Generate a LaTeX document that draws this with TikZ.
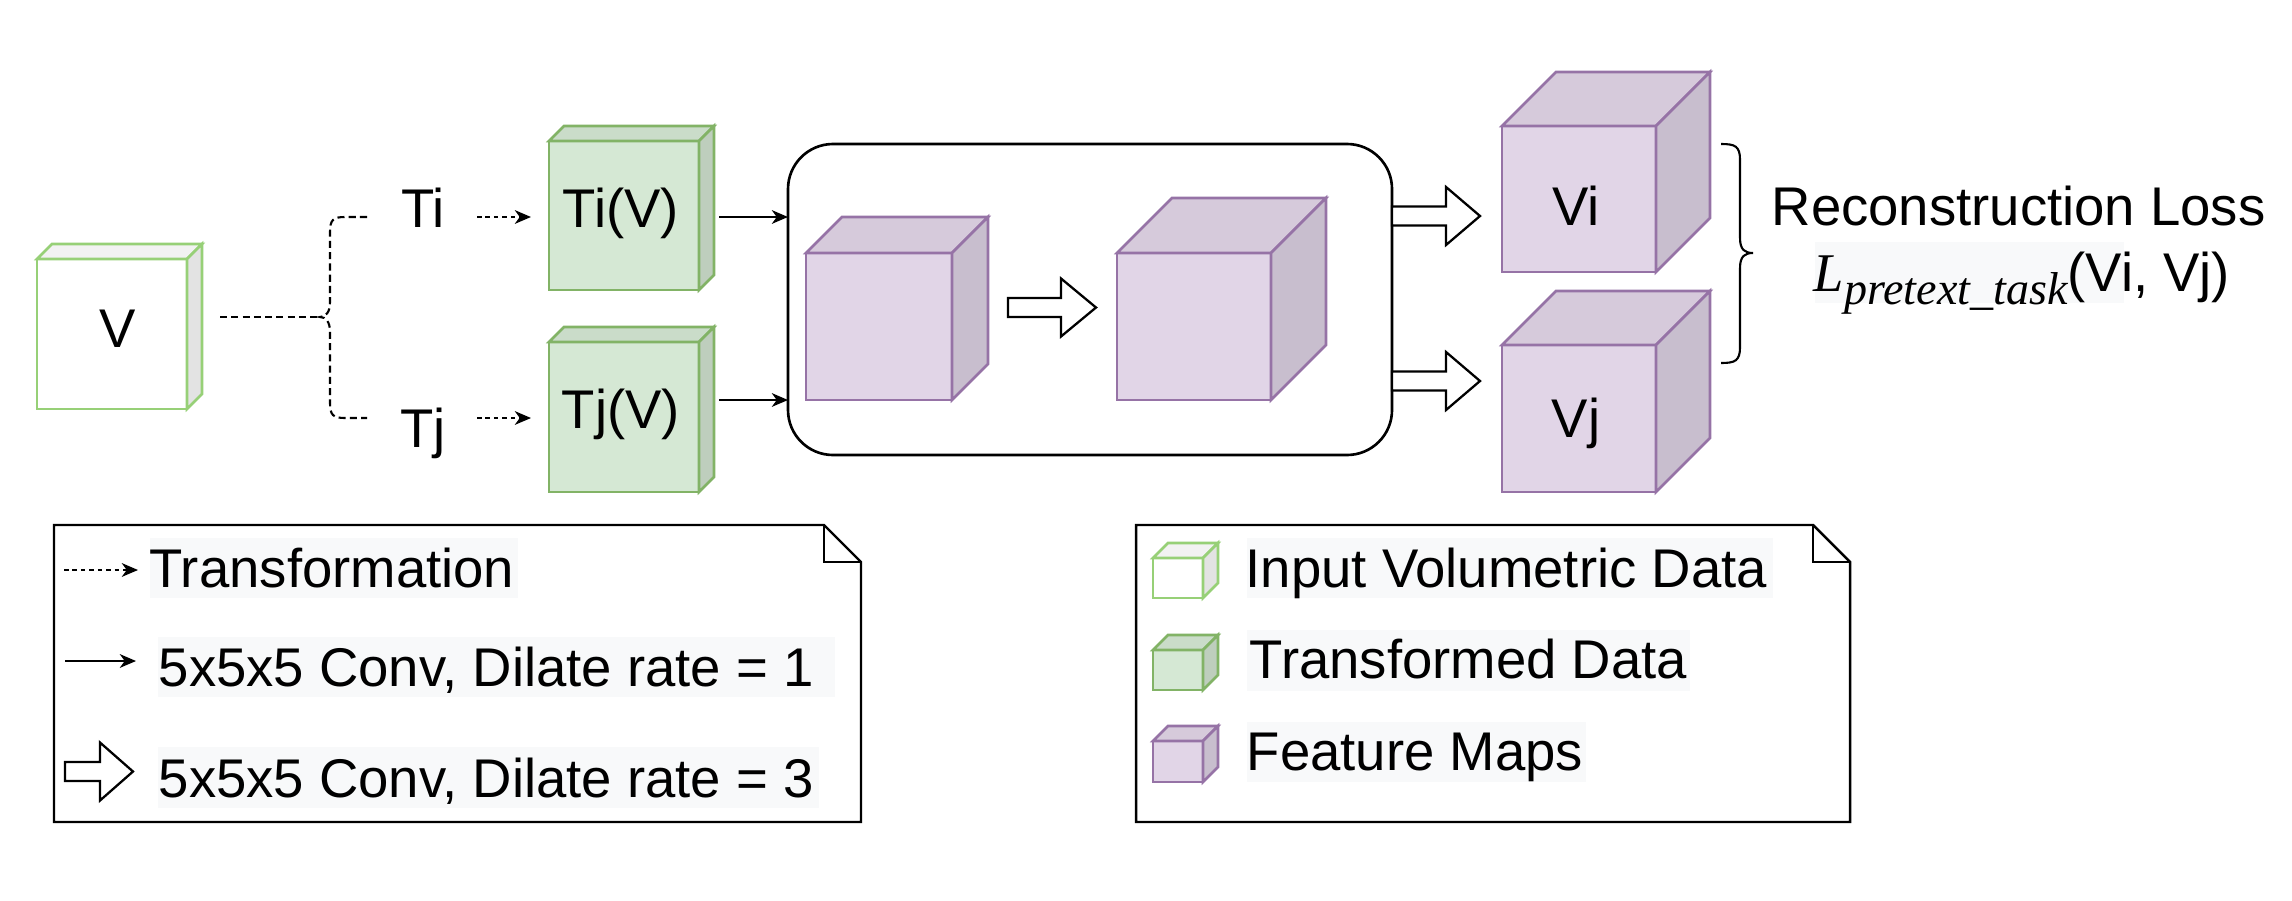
\documentclass[tikz,border=0pt]{standalone}
\usepackage{fontspec}
\setmainfont{Liberation Sans}
\newfontfamily\timesf{Liberation Serif}
\usetikzlibrary{arrows.meta}
\definecolor{ingreen}{HTML}{97D077}
\definecolor{trfill}{HTML}{D5E8D4}
\definecolor{trline}{HTML}{82B366}
\definecolor{fmfill}{HTML}{E1D5E7}
\definecolor{fmline}{HTML}{9673A6}
\definecolor{labbg}{HTML}{F8F9FA}
\tikzset{
  cubeline/.style={line width=0.75pt, line join=miter},
  arrline/.style={line width=0.65pt, line join=miter},
  lbl/.style={inner sep=0pt, font=\fontsize{15.5}{18}\selectfont},
  convarrow/.style={line width=0.6pt, -{Stealth[length=4.6pt,width=3.9pt,inset=1.4pt]}},
  trarrow/.style={line width=0.6pt, dash pattern=on 1.3pt off 1.1pt, -{Stealth[length=4.6pt,width=3.9pt,inset=1.4pt]}},
  bracedash/.style={line width=0.6pt, dash pattern=on 2pt off 1.2pt},
  notebox/.style={line width=0.7pt, fill=white, line join=miter},
  labelbg/.style={fill=labbg, draw=none}
}
\newcommand\mycube[7]{%
  \filldraw[fill=#6, draw=#7, cubeline] (#1,#2) rectangle ++(#3,#4);
  \filldraw[fill=#6!95!black, draw=#7, cubeline] (#1,#2) -- ++(#5,-#5) -- ++(#3,0) -- ++(-#5,#5) -- cycle;
  \filldraw[fill=#6!89!black, draw=#7, cubeline] (#1+#3,#2) -- ++(#5,-#5) -- ++(0,#4) -- ++(-#5,#5) -- cycle;}
\newcommand\blockarr[4]{%
  \filldraw[fill=white, draw=black, arrline] (#1,#4-9.5) -- (#2,#4-9.5) -- (#2,#4-29) -- (#3,#4) -- (#2,#4+29) -- (#2,#4+9.5) -- (#1,#4+9.5) -- cycle;}
\begin{document}
\begin{tikzpicture}[x=0.01cm, y=-0.01cm]
\useasboundingbox (0,0) rectangle (2292,900);

% ---------- cubes ----------
\mycube{37}{259}{150}{150}{15}{white}{ingreen}
\mycube{549}{141}{150}{149}{15}{trfill}{trline}
\mycube{549}{342}{150}{150}{15}{trfill}{trline}

% rounded container
\draw[line width=0.75pt, rounded corners=12.8pt] (788,144) rectangle (1392,455);

\mycube{806}{253}{146}{147}{36}{fmfill}{fmline}
\mycube{1117}{253}{154}{147}{55}{fmfill}{fmline}
\mycube{1502}{126}{154}{146}{54}{fmfill}{fmline}
\mycube{1502}{345}{154}{147}{54}{fmfill}{fmline}

% ---------- labels ----------
\node[lbl, anchor=base] (lv) at (118,347) {V};
\node[lbl, anchor=base] (lti) at (423,227) {Ti};
\node[lbl, anchor=base] (ltj) at (423,447) {Tj};
\node[lbl, anchor=base] (ltiv) at (621,227) {Ti(V)};
\node[lbl, anchor=base] (ltjv) at (621,428) {Tj(V)};
\node[lbl, anchor=base] (lvi) at (1576,225) {Vi};
\node[lbl, anchor=base] (lvj) at (1576,437) {Vj};
\node[lbl, anchor=base west] (rl) at (1771,225) {Reconstruction Loss};
\fill[labelbg] (1815,242) rectangle (2124,303);
\node[lbl, anchor=base west] (lp) at (1813,291) {{\timesf\itshape L}\raisebox{-3.7pt}{\fontsize{13.1}{15}\selectfont\timesf\itshape pretext\_task}(Vi, Vj)};

% ---------- connectors ----------
\coordinate (vout) at (220,317);
\coordinate (btip) at (320,317);
\draw[bracedash] (vout) -- (btip);
\draw[bracedash] (367,217) -- (345,217) .. controls (333,217) and (330,220) .. (330,232) -- (330,302)
  .. controls (330,312) and (326,317) .. (btip) .. controls (326,317) and (330,322) .. (330,332)
  -- (330,403) .. controls (330,415) and (333,418) .. (345,418) -- (367,418);

\coordinate (tia) at (477,217); \coordinate (tib) at (531,217);
\coordinate (tja) at (477,418); \coordinate (tjb) at (531,418);
\draw[trarrow] (tia) -- (tib);
\draw[trarrow] (tja) -- (tjb);

\coordinate (cia) at (719,217); \coordinate (cib) at (788,217);
\coordinate (cja) at (719,400); \coordinate (cjb) at (788,400);
\draw[convarrow] (cia) -- (cib);
\draw[convarrow] (cja) -- (cjb);

\blockarr{1008}{1061}{1096}{307.5}
\blockarr{1392}{1446}{1480}{216}
\blockarr{1392}{1446}{1480}{381}

% right brace
\draw[line width=0.6pt] (1721,144) .. controls (1735,144) and (1740,146) .. (1740,160) -- (1740,238)
  .. controls (1740,250) and (1745,253) .. (1753,253) .. controls (1745,253) and (1740,256) .. (1740,268)
  -- (1740,347) .. controls (1740,361) and (1735,363) .. (1721,363);

% ---------- legend 1 ----------
\draw[notebox] (54,525) -- (824,525) -- (861,562) -- (861,822) -- (54,822) -- cycle;
\draw[notebox, fill=none] (824,525) |- (861,562);
\fill[labelbg] (150,538) rectangle (518,598);
\fill[labelbg] (158,637) rectangle (835,697);
\fill[labelbg] (158,747) rectangle (819,808);
\coordinate (l1a) at (64,570); \coordinate (l1b) at (138,570);
\draw[trarrow] (l1a) -- (l1b);
\coordinate (l2a) at (65,661); \coordinate (l2b) at (136,661);
\draw[convarrow] (l2a) -- (l2b);
\blockarr{65}{100}{133}{771.5}
\node[lbl, anchor=base west] (lg1) at (149,587) {Transformation};
\node[lbl, anchor=base west] (lg2) at (158,686) {5x5x5 Conv, Dilate rate = 1};
\node[lbl, anchor=base west] (lg3) at (158,797) {5x5x5 Conv, Dilate rate = 3};

% ---------- legend 2 ----------
\draw[notebox] (1136,525) -- (1813,525) -- (1850,562) -- (1850,822) -- (1136,822) -- cycle;
\draw[notebox, fill=none] (1813,525) |- (1850,562);
\fill[labelbg] (1247,538) rectangle (1773,598);
\fill[labelbg] (1247,630) rectangle (1690,691);
\fill[labelbg] (1247,722) rectangle (1586,782);
\mycube{1153}{558}{50}{40}{15}{white}{ingreen}
\mycube{1153}{650}{50}{40}{15}{trfill}{trline}
\mycube{1153}{741}{50}{41}{15}{fmfill}{fmline}
\node[lbl, anchor=base west] (lg4) at (1245,587) {Input Volumetric Data};
\node[lbl, anchor=base west] (lg5) at (1249,678) {Transformed Data};
\node[lbl, anchor=base west] (lg6) at (1246,770) {Feature Maps};
\end{tikzpicture}
\end{document}
